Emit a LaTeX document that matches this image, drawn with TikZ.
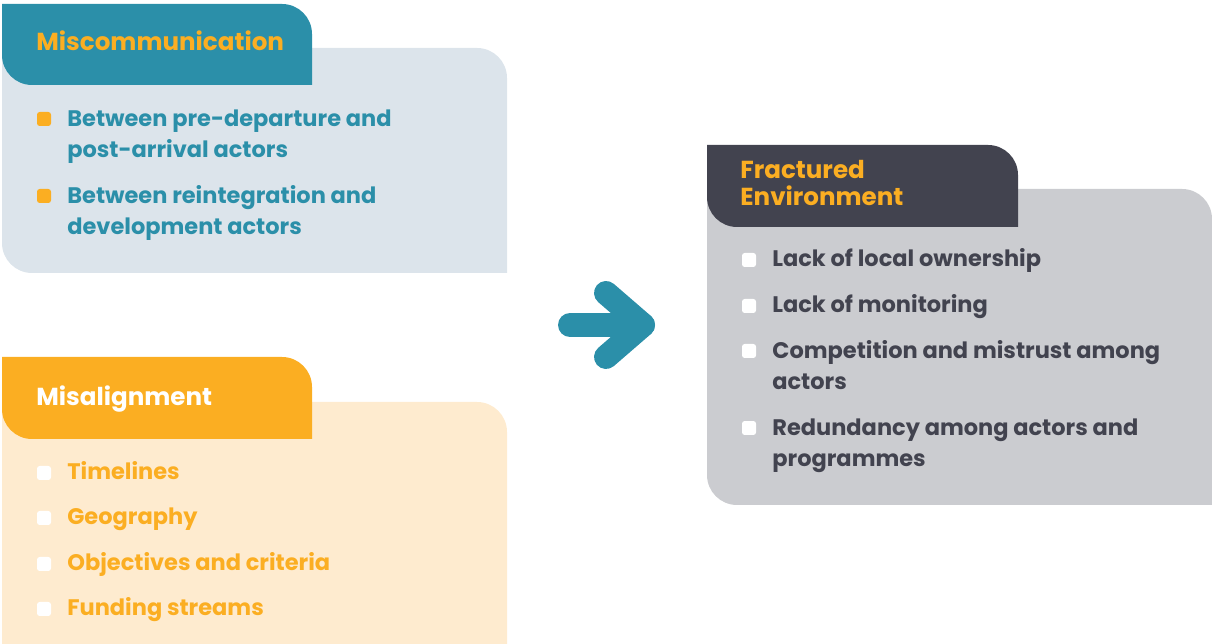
\documentclass[tikz,border=0pt]{standalone}
\usepackage{fontspec}
\setmainfont{Poppins}
\usetikzlibrary{positioning}
\definecolor{misteal}{HTML}{2B8FA9}
\definecolor{misbody}{HTML}{DCE4EB}
\definecolor{alorange}{HTML}{FBAE22}
\definecolor{albody}{HTML}{FEEBCF}
\definecolor{frdark}{HTML}{42434F}
\definecolor{frbody}{HTML}{CBCCD0}
\tikzset{
  title/.style={anchor=base west,inner sep=0pt,font=\bfseries\fontsize{14}{15.4}\selectfont,align=left},
  item/.style={anchor=base west,inner sep=0pt,font=\bfseries\fontsize{12.8}{18.2}\selectfont,align=left},
  bulletbox/.style={rectangle,rounded corners=1.5pt,minimum size=0.28cm,inner sep=0pt},
  arrowline/.style={line width=0.48cm,line cap=round,line join=round,misteal}
}
\begin{document}
\begin{tikzpicture}[x=0.02cm,y=0.02cm]
    \useasboundingbox (0,0) rectangle (1212,644);
    % Miscommunication
    \fill[misbody] (2,596)--(477,596) arc[start angle=90,end angle=0,radius=30]--(507,371)--(32,371) arc[start angle=270,end angle=180,radius=30]--cycle;
    \fill[misteal] (2,640)--(282,640) arc[start angle=90,end angle=0,radius=30]--(312,559)--(32,559) arc[start angle=270,end angle=180,radius=30]--cycle;
    \node[title,text=alorange] (mis) at (36,593) {Miscommunication};
    \node[item,text=misteal] (mis1) at (67,486) {Between pre-departure and\\post-arrival actors};
    \node[item,text=misteal] (mis2) at (67,409) {Between reintegration and\\development actors};
    \foreach \i in {mis1,mis2}
        \node[bulletbox,fill=alorange] at ([xshift=-0.46cm,yshift=0.78cm]\i.base west) {};
    % Misalignment
    \fill[albody] (2,242)--(477,242) arc[start angle=90,end angle=0,radius=30]--(507,0)--(2,0)--cycle;
    \fill[alorange] (2,287)--(282,287) arc[start angle=90,end angle=0,radius=30]--(312,205)--(32,205) arc[start angle=270,end angle=180,radius=30]--cycle;
    \node[title,text=white] (al) at (36,238) {Misalignment};
    \node[item,text=alorange] (al1) at (67,164) {Timelines};
    \node[item,text=alorange] (al2) at (67,119) {Geography};
    \node[item,text=alorange] (al3) at (67,73) {Objectives and criteria};
    \node[item,text=alorange] (al4) at (67,28) {Funding streams};
    \foreach \i in {al1,al2,al3,al4}
        \node[bulletbox,fill=white] at ([xshift=-0.46cm,yshift=0.14cm]\i.base west) {};
    % arrow
    \coordinate (shaft) at (570,319);
    \coordinate (tip) at (643,319);
    \draw[arrowline] (shaft)--(tip);
    \draw[arrowline] (606,351)--(tip)--(606,287);
    % Fractured environment
    \fill[frbody] (707,455)--(1182,455) arc[start angle=90,end angle=0,radius=30]--(1212,139)--(737,139) arc[start angle=270,end angle=180,radius=30]--cycle;
    \fill[frdark] (707,499)--(988,499) arc[start angle=90,end angle=0,radius=30]--(1018,417)--(737,417) arc[start angle=270,end angle=180,radius=30]--cycle;
    \node[title,text=alorange] (fr) at (740,438) {Fractured\\Environment};
    \node[item,text=frdark] (fr1) at (772,377) {Lack of local ownership};
    \node[item,text=frdark] (fr2) at (772,331) {Lack of monitoring};
    \node[item,text=frdark] (fr3) at (772,254) {Competition and mistrust among\\actors};
    \node[item,text=frdark] (fr4) at (772,177) {Redundancy among actors and\\programmes};
    \foreach \i/\s in {fr1/0.14cm,fr2/0.14cm,fr3/0.78cm,fr4/0.78cm}
        \node[bulletbox,fill=white] at ([xshift=-0.46cm,yshift=\s]\i.base west) {};
\end{tikzpicture}
\end{document}
